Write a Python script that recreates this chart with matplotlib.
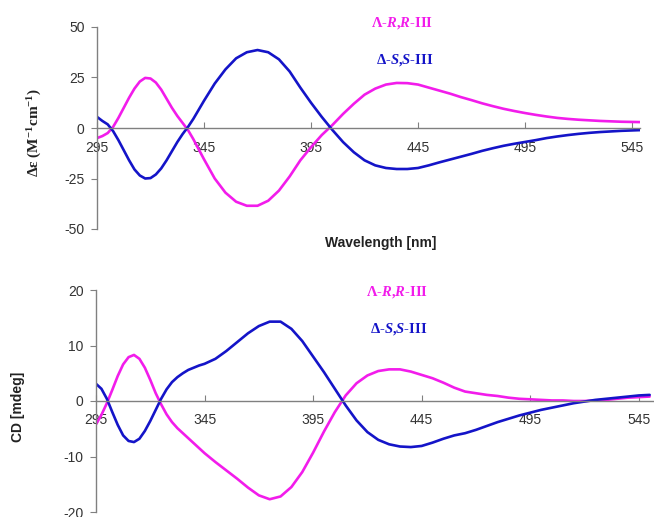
import numpy as np
import matplotlib
matplotlib.use("Agg")
import matplotlib.pyplot as plt

plt.rcParams['mathtext.fontset'] = 'custom'
plt.rcParams['mathtext.rm'] = 'Liberation Serif:bold'
plt.rcParams['mathtext.it'] = 'Liberation Serif:italic:bold'
plt.rcParams['mathtext.bf'] = 'Liberation Serif:bold'
plt.rcParams['axes.unicode_minus'] = False

# 2.5 nm steps up to 345, then 5 nm steps
wl = np.r_[np.arange(295, 345, 2.5), np.arange(345, 551, 5)]

# top panel: delta epsilon (M-1 cm-1)
eps_RR = [-5, -4, -2.5, 0.5, 5, 10, 15, 19.5, 23, 24.8, 24.5, 22.5, 19, 14.5, 10, 6, 2.5,
          -1, -5.5, -10.5, -15.5,
          -25, -32, -36.5, -38.5, -38.5, -36, -31, -24, -16, -9.5, -3.5, 1.5, 7, 12, 16.5,
          19.5, 21.5, 22.3, 22.2, 21.5, 20, 18.5, 17, 15.3, 13.8, 12.2, 10.8, 9.5, 8.4, 7.4,
          6.5, 5.7, 5.0, 4.5, 4.1, 3.8, 3.5, 3.3, 3.1, 3.0, 2.9]
eps_SS = [5.5, 3.5, 1.8, -1.5, -6, -11, -16, -20.5, -23.5, -25, -24.8, -23, -20, -16, -11.5,
          -7, -3, 0.5, 4.5, 9, 13.5,
          22, 29, 34.5, 37.5, 38.6, 37.5, 34, 28, 20, 12.5, 5.5, -1, -7, -12, -16, -18.5,
          -19.8, -20.3, -20.3, -19.8, -18.5, -17, -15.6, -14.2, -12.8, -11.3, -10, -8.8,
          -7.8, -6.9, -6, -5, -4.2, -3.5, -2.9, -2.4, -2, -1.7, -1.4, -1.2, -1.0]

# bottom panel: CD (mdeg)
cd_RR = [-4.2, -2.5, -0.4, 2, 4.5, 6.6, 7.9, 8.3, 7.6, 6, 3.8, 1.4, -0.6, -2.4, -3.8, -4.9,
         -5.8, -6.7, -7.6, -8.5, -9.4,
         -11, -12.5, -14, -15.6, -17, -17.7, -17.2, -15.5, -12.8, -9.3, -5.5, -2, 1, 3.2,
         4.6, 5.4, 5.7, 5.7, 5.3, 4.7, 4.1, 3.3, 2.4, 1.7, 1.4, 1.1, 0.9, 0.6, 0.4, 0.3,
         0.2, 0.1, 0.1, 0.0, 0.0, 0.1, 0.2, 0.4, 0.6, 0.7, 0.8]
cd_SS = [3.1, 2.2, 0.4, -2, -4.3, -6.2, -7.2, -7.4, -6.8, -5.4, -3.6, -1.6, 0.4, 2.1, 3.4,
         4.3, 5, 5.6, 6, 6.4, 6.7,
         7.6, 9, 10.6, 12.2, 13.5, 14.3, 14.3, 13, 10.8, 8, 5.2, 2.2, -0.8, -3.5, -5.6, -7,
         -7.8, -8.2, -8.3, -8.1, -7.5, -6.8, -6.2, -5.8, -5.2, -4.5, -3.8, -3.2, -2.6,
         -2.1, -1.6, -1.2, -0.8, -0.4, -0.1, 0.2, 0.4, 0.6, 0.8, 1.0, 1.1]

xticks = [295, 345, 395, 445, 495, 545]
magenta = '#F21CEB'
blue = '#1414C8'
W, H = 654, 517

fig = plt.figure(figsize=(W / 100, H / 100), dpi=100)

def px(x, y):
    return x / W, 1 - y / H

def style(ax):
    for s in ['top', 'right']:
        ax.spines[s].set_visible(False)
    ax.spines['bottom'].set_position(('data', 0))
    for s in ['left', 'bottom']:
        ax.spines[s].set_color('#808080')
        ax.spines[s].set_linewidth(1)
    ax.set_xticks(xticks)
    ax.tick_params(axis='x', direction='in', length=4, pad=9, colors='#808080',
                   labelcolor='#333333', labelsize=10)
    ax.tick_params(axis='y', direction='out', length=4, pad=5, colors='#808080',
                   labelcolor='#333333', labelsize=10)
    for lab in ax.get_xticklabels() + ax.get_yticklabels():
        lab.set_family('Liberation Sans')
    ax.patch.set_alpha(0)

line_kw = dict(lw=1.9, solid_joinstyle='round', solid_capstyle='round')

# top axes
ax1 = fig.add_axes([97 / W, 1 - 229 / H, (640 - 97) / W, 202 / H])
ax1.plot(wl, eps_RR, color=magenta, **line_kw)
ax1.plot(wl, eps_SS, color=blue, **line_kw)
ax1.set_xlim(295, 548.7)
ax1.set_ylim(-50, 50)
ax1.set_yticks([-50, -25, 0, 25, 50])
style(ax1)

# bottom axes
ax2 = fig.add_axes([96 / W, 1 - 512 / H, (W - 96) / W, 222 / H])
ax2.plot(wl, cd_RR, color=magenta, **line_kw)
ax2.plot(wl, cd_SS, color=blue, **line_kw)
ax2.set_xlim(295, 552)
ax2.set_ylim(-20, 20)
ax2.set_yticks([-20, -10, 0, 10, 20])
style(ax2)

serif = dict(family='Liberation Serif', weight='bold', fontsize=10.5, ha='center', va='center')
fig.text(*px(402, 23), 'Λ-$R$,$R$-III', color=magenta, **serif)
fig.text(*px(405, 60), 'Δ-$S$,$S$-III', color=blue, **serif)
fig.text(*px(397, 292), 'Λ-$R$,$R$-III', color=magenta, **serif)
fig.text(*px(399, 329), 'Δ-$S$,$S$-III', color=blue, **serif)

fig.text(*px(35, 133), 'Δε (M$^{-1}$cm$^{-1}$)', family='Liberation Serif', weight='bold',
         fontsize=11, rotation=90, ha='center', va='center', color='#222222')
fig.text(*px(18, 407), 'CD [mdeg]', family='Liberation Sans', weight='bold',
         fontsize=10, rotation=90, ha='center', va='center', color='#222222')
fig.text(*px(381, 243), 'Wavelength [nm]', family='Liberation Sans', weight='bold',
         fontsize=10, ha='center', va='center', color='#222222')

fig.savefig('out.png', dpi=100)
